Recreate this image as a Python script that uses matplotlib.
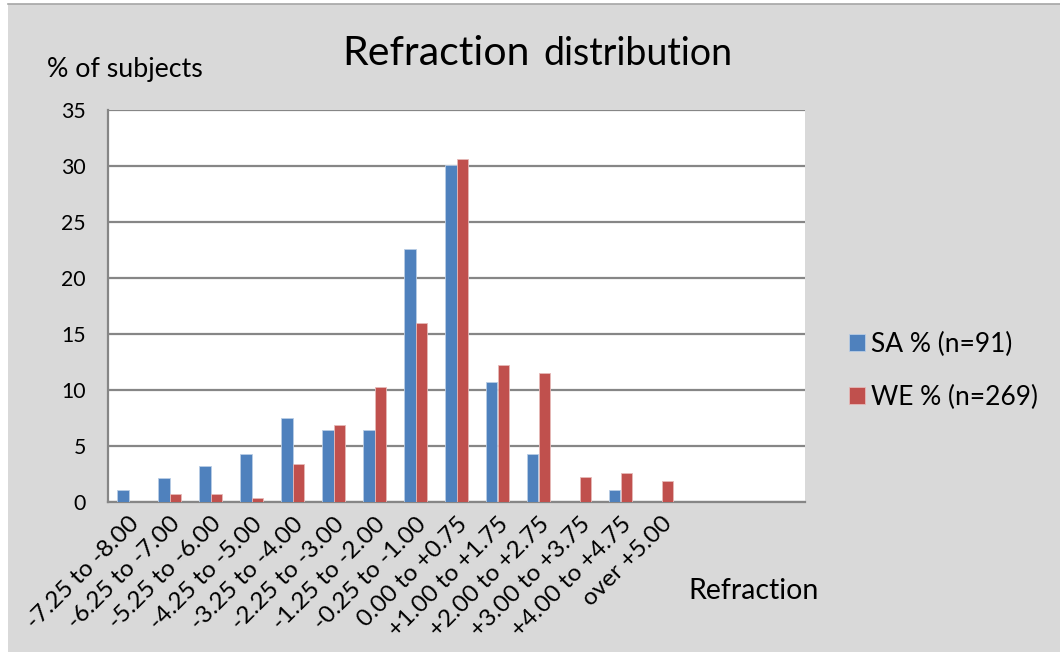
import numpy as np
import matplotlib.pyplot as plt
from matplotlib.patches import Rectangle

plt.rcParams['font.family'] = ['Lato', 'DejaVu Sans']

categories = ['-7.25 to -8.00', '-6.25 to -7.00', '-5.25 to -6.00', '-4.25 to -5.00',
              '-3.25 to -4.00', '-2.25 to -3.00', '-1.25 to -2.00', '-0.25 to -1.00',
              '0.00 to +0.75', '+1.00 to +1.75', '+2.00 to +2.75', '+3.00 to +3.75',
              '+4.00 to +4.75', 'over +5.00', '', '', '']
sa_pct = [1.07, 2.14, 3.2, 4.26, 7.5, 6.43, 6.43, 22.6, 30.1, 10.7, 4.26, 0, 1.07, 0, 0, 0, 0]
we_pct = [0, 0.74, 0.74, 0.37, 3.4, 6.85, 10.3, 16.0, 30.65, 12.25, 11.5, 2.23, 2.6, 1.86, 0, 0, 0]

W, H = 1060, 657
BG = '#D9D9D9'
BLUE = '#4F81BD'
RED = '#C0504D'

fig = plt.figure(figsize=(W / 100, H / 100), dpi=100)
fig.patch.set_facecolor('white')
# grey chart area with a thin top border
fig.patches.append(Rectangle((8 / W, 1 - 652 / H), (W - 8) / W, (652 - 4) / H,
                             transform=fig.transFigure, facecolor=BG,
                             edgecolor='none', zorder=-5))
fig.lines.append(plt.Line2D([8 / W, 1], [1 - 4 / H, 1 - 4 / H], transform=fig.transFigure,
                            color='#A6A6A6', lw=1.2, zorder=-4))

ax = fig.add_axes([108 / W, 1 - 502 / H, 697 / W, 392 / H])
ax.set_facecolor('white')

x = np.arange(len(categories))
bw = 0.286
ax.bar(x - bw / 2, sa_pct, bw, color=BLUE, edgecolor='#B9CDE5', lw=0.6, label='SA % (n=91)', zorder=3)
ax.bar(x + bw / 2, we_pct, bw, color=RED, edgecolor='#E6B9B8', lw=0.6, label='WE % (n=269)', zorder=3)

ax.set_xlim(-0.5, len(categories) - 0.5)
ax.set_ylim(0, 35)
ax.set_yticks(range(0, 36, 5))
ax.yaxis.grid(True, color='#868686', lw=1.6)
ax.set_axisbelow(True)
ax.set_xticks(x)
ax.set_xticklabels(categories, rotation=45, ha='right', va='top', rotation_mode='anchor')
ax.tick_params(axis='x', length=0, pad=8, labelsize=17.5)
ax.tick_params(axis='y', length=0, pad=16, labelsize=15.3)
for s in ['top', 'right']:
    ax.spines[s].set_visible(False)
for s in ['left', 'bottom']:
    ax.spines[s].set_color('#868686')
    ax.spines[s].set_linewidth(1.6)

ax.legend(loc='center left', bbox_to_anchor=(825 / W, 1 - 371 / H), bbox_transform=fig.transFigure,
          frameon=False, fontsize=19, handlelength=0.6, handleheight=0.6, handletextpad=0.23,
          labelspacing=1.05)

fig.text(342 / W, 1 - 65 / H, 'Refraction', fontsize=29.5, va='baseline', ha='left')
fig.text(543 / W, 1 - 65 / H, 'distribution', fontsize=27, va='baseline', ha='left')
fig.text(47 / W, 1 - 70 / H, '% of subjects', fontsize=19.3, va='center', ha='left')
fig.text(688 / W, 1 - 591 / H, 'Refraction', fontsize=20.5, va='center', ha='left')

fig.savefig('out.png', dpi=100, facecolor=fig.get_facecolor())
